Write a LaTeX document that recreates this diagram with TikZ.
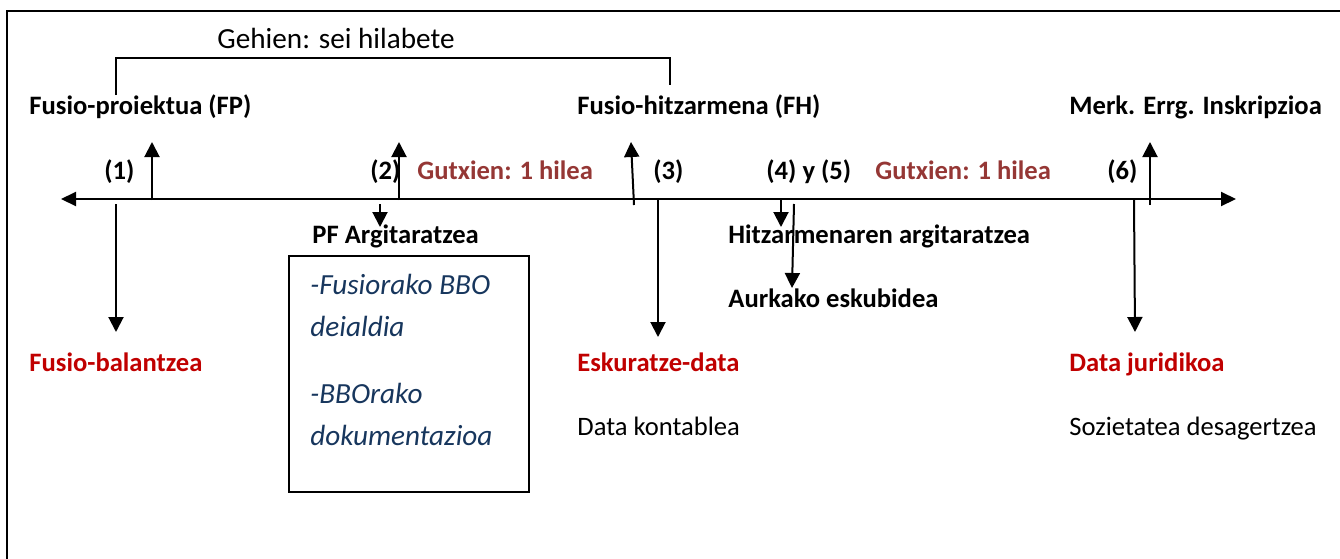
\documentclass[tikz,border=0pt]{standalone}
\usepackage{fontspec}
\setmainfont{Carlito}
\usepackage{xcolor}
\usetikzlibrary{arrows.meta}
\definecolor{datared}{HTML}{C00000}
\definecolor{gapred}{HTML}{953735}
\definecolor{bboblue}{HTML}{17365D}
\newcommand{\steplabel}[4]{
\node[#1] (#2) at (#3) {#4};
}
\begin{document}
\begin{tikzpicture}[x=0.5pt,y=-0.5pt,
    lbl/.style={inner sep=0pt,anchor=base west,font=\fontsize{13.3}{16}\selectfont\bfseries},
    plain/.style={inner sep=0pt,anchor=base west,font=\fontsize{13.3}{16}\selectfont},
    bbotext/.style={inner sep=0pt,anchor=base west,text=bboblue,font=\fontsize{14.6}{17}\selectfont\itshape},
    pointer/.style={line width=1pt,-{Triangle[width=7.5pt,length=7.5pt]}},
    axisline/.style={line width=1pt,{Triangle[width=7pt,length=7.5pt]}-{Triangle[width=7pt,length=7.5pt]}}]
\useasboundingbox (0,0) rectangle (1340,558);
% frame
\coordinate (frTR) at (1345,11);
\coordinate (frBL) at (7,565);
\draw[line width=1.3pt] (frTR) -| (frBL);
% time axis
\coordinate (axL) at (61,199);
\coordinate (axR) at (1236,199);
\draw[axisline] (axL) -- (axR);
% bracket
\coordinate (brL) at (116,95);
\coordinate (brR) at (670,85);
\draw[line width=0.8pt] (brL) -- ++(0,-37) -| (brR);
\node[plain,font=\fontsize{14.6}{17}\selectfont] (gehien) at (217,48) {Gehien: sei hilabete};
% top labels
\steplabel{lbl}{fp}{29,114}{Fusio-proiektua (FP)}
\steplabel{lbl}{fh}{577,114}{Fusio-hitzarmena (FH)}
\steplabel{lbl}{merk}{1069,114}{Merk. Errg. Inskripzioa}
% step numbers
\steplabel{lbl}{n1}{104,179}{(1)}
\steplabel{lbl}{n2}{370,179}{(2)}
\steplabel{lbl}{n3}{653,179}{(3)}
\steplabel{lbl}{n45}{766,179}{(4) y (5)}
\steplabel{lbl}{n6}{1107,179}{(6)}
\steplabel{lbl,text=gapred}{gapa}{417,179}{Gutxien: 1 hilea}
\steplabel{lbl,text=gapred}{gapb}{875,179}{Gutxien: 1 hilea}
% below the axis
\steplabel{lbl}{pfarg}{312,243}{PF Argitaratzea}
\steplabel{lbl}{hitzarg}{728,243}{Hitzarmenaren argitaratzea}
\steplabel{lbl}{aurkako}{728,307}{Aurkako eskubidea}
\steplabel{lbl,text=datared}{balantze}{29,371}{Fusio-balantzea}
\steplabel{lbl,text=datared}{eskuratze}{577,371}{Eskuratze-data}
\steplabel{lbl,text=datared}{juridiko}{1069,371}{Data juridikoa}
\steplabel{plain}{kontable}{577,435}{Data kontablea}
\steplabel{plain}{desager}{1069,435}{Sozietatea desagertzea}
% BBO box
\coordinate (bboNW) at (289,256);
\coordinate (bboSE) at (529,492);
\draw[line width=1.2pt] (bboNW) rectangle (bboSE);
\steplabel{bbotext}{bbo1}{310,294}{-Fusiorako BBO}
\steplabel{bbotext}{bbo2}{310,336}{deialdia}
\steplabel{bbotext}{bbo3}{310,403}{-BBOrako}
\steplabel{bbotext}{bbo4}{310,445}{dokumentazioa}
% arrows off the axis
\foreach \nm/\xa/\ya/\xb/\yb in {up1/152/200/152/142, dn1/116/204/116/332,
    up2/399/200/399/142, dn2/380/204/380/227, up3/634/205/631/142,
    dn3/658/200/658/337, dn4/781/200/781/227, dn5/794/204/792/288,
    up6/1150/205/1150/142, dn6/1134/200/1135/332}
{
    \coordinate (\nm-s) at (\xa,\ya);
    \coordinate (\nm-e) at (\xb,\yb);
    \draw[pointer] (\nm-s) -- (\nm-e);
}
\end{tikzpicture}
\end{document}
